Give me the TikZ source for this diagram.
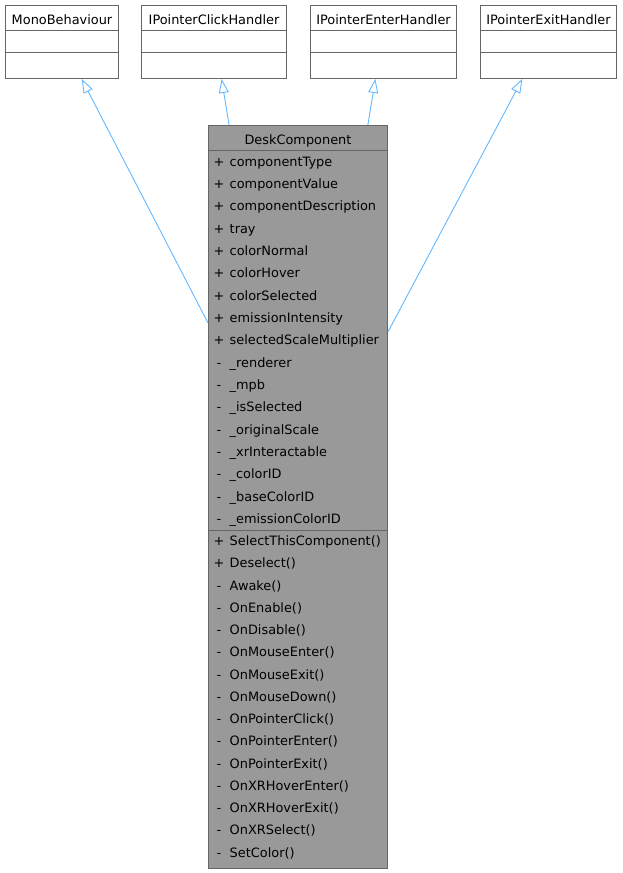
\documentclass[tikz,border=0pt]{standalone}
\usepackage{fontspec}
\setmainfont{DejaVu Sans}
\usetikzlibrary{arrows.meta,calc}
\definecolor{edgeblue}{HTML}{63B8FF}
\definecolor{framegray}{HTML}{666666}
\definecolor{deskfill}{HTML}{999999}
\begin{document}
\begin{tikzpicture}[x=1pt,y=-1pt,
  font=\fontsize{12.9}{15}\selectfont,
  classbox/.style={draw=framegray, line width=1pt, fill=white, inner sep=0pt, anchor=north west, minimum height=73pt},
  deskbox/.style={draw=framegray, line width=1pt, fill=deskfill, inner sep=0pt, anchor=north west, minimum width=179pt, minimum height=743pt},
  sepline/.style={draw=framegray, line width=1pt},
  txt/.style={inner sep=0pt, anchor=base},
  mem/.style={inner sep=0pt, anchor=base west},
  inh/.style={draw=edgeblue, line width=0.9pt, -{Triangle[open, length=14pt, width=10pt, line width=0.9pt]}}
]
\useasboundingbox (0,0) rectangle (622,873);

% top classes
\node[classbox, minimum width=113pt] (mono) at (5,5) {};
\node[classbox, minimum width=145pt] (click) at (141,5) {};
\node[classbox, minimum width=146pt] (enter) at (310,5) {};
\node[classbox, minimum width=136pt] (exit) at (480,5) {};
\foreach \n in {mono,click,enter,exit}{
  \draw[sepline] ($(\n.north west)+(0,25)$) -- ($(\n.north east)+(0,25)$);
  \draw[sepline] ($(\n.north west)+(0,47)$) -- ($(\n.north east)+(0,47)$);
}
\node[txt] (monot) at ($(mono.north)+(0,19)$) {MonoBehaviour};
\node[txt] (clickt) at ($(click.north)+(0,19)$) {IPointerClickHandler};
\node[txt] (entert) at ($(enter.north)+(0,19)$) {IPointerEnterHandler};
\node[txt] (exitt) at ($(exit.north)+(0,19)$) {IPointerExitHandler};

% main class
\node[deskbox] (desk) at (208,125) {};
\draw[sepline] ($(desk.north west)+(0,25)$) -- ($(desk.north east)+(0,25)$);
\draw[sepline] ($(desk.north west)+(0,405.5)$) -- ($(desk.north east)+(0,405.5)$);
\node[txt] (deskt) at ($(desk.north)+(0,19)$) {DeskComponent};

\foreach \s/\name [count=\i from 0] in {+/componentType,+/componentValue,+/componentDescription,+/tray,+/colorNormal,+/colorHover,+/colorSelected,+/emissionIntensity,+/selectedScaleMultiplier,-/\_renderer,-/\_mpb,-/\_isSelected,-/\_originalScale,-/\_xrInteractable,-/\_colorID,-/\_baseColorID,-/\_emissionColorID}{
  \node[txt] (ap\i) at (219,166+22.35*\i) {\s};
  \node[mem] (a\i) at (229.5,166+22.35*\i) {\name};
}
\foreach \s/\name [count=\i from 0] in {+/SelectThisComponent(),+/Deselect(),-/Awake(),-/OnEnable(),-/OnDisable(),-/OnMouseEnter(),-/OnMouseExit(),-/OnMouseDown(),-/OnPointerClick(),-/OnPointerEnter(),-/OnPointerExit(),-/OnXRHoverEnter(),-/OnXRHoverExit(),-/OnXRSelect(),-/SetColor()}{
  \node[txt] (mp\i) at (219,545.5+22.25*\i) {\s};
  \node[mem] (m\i) at (229.5,545.5+22.25*\i) {\name};
}

% inheritance connectors
\draw[inh] ($(desk.north west)!0.266!(desk.south west)$) -- ($(mono.south west)!0.673!(mono.south east)$);
\draw[inh] ($(desk.north west)!0.117!(desk.north east)$) -- ($(click.south west)!0.552!(click.south east)$);
\draw[inh] ($(desk.north west)!0.888!(desk.north east)$) -- ($(enter.south west)!0.445!(enter.south east)$);
\draw[inh] ($(desk.north east)!0.278!(desk.south east)$) -- ($(exit.south west)!0.309!(exit.south east)$);
\end{tikzpicture}
\end{document}
